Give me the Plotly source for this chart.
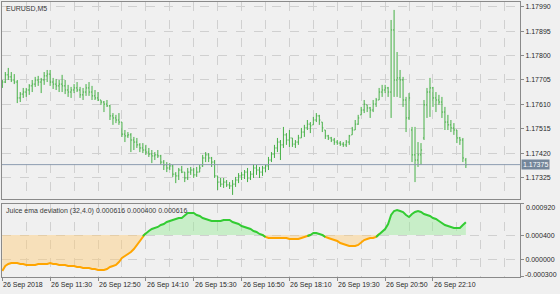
import plotly.graph_objects as go
import pandas as pd

symbol_title = "EURUSD,M5"
indicator_title = "Juice ema deviation (32,4.0) 0.000616 0.000400 0.000616"
bar_start = "2018-09-26 10:10"

open_ = [1.17682, 1.17697, 1.17725, 1.17717, 1.17705, 1.17697, 1.17635, 1.17650, 1.17658, 1.17666,
         1.17682, 1.17689, 1.17705, 1.17697, 1.17705, 1.17721, 1.17728, 1.17697, 1.17689, 1.17682,
         1.17689, 1.17682, 1.17666, 1.17658, 1.17666, 1.17674, 1.17666, 1.17647, 1.17658, 1.17674,
         1.17658, 1.17643, 1.17635, 1.17627, 1.17619, 1.17611, 1.17604, 1.17565, 1.17557, 1.17549,
         1.17541, 1.17494, 1.17487, 1.17491, 1.17471, 1.17463, 1.17452, 1.17440, 1.17432, 1.17424,
         1.17416, 1.17409, 1.17413, 1.17409, 1.17385, 1.17374, 1.17362, 1.17370, 1.17338, 1.17331,
         1.17354, 1.17346, 1.17323, 1.17346, 1.17354, 1.17335, 1.17346, 1.17370, 1.17401, 1.17413,
         1.17401, 1.17385, 1.17331, 1.17307, 1.17299, 1.17307, 1.17296, 1.17292, 1.17299, 1.17315,
         1.17331, 1.17335, 1.17346, 1.17323, 1.17338, 1.17362, 1.17354, 1.17346, 1.17362, 1.17370,
         1.17393, 1.17416, 1.17440, 1.17463, 1.17452, 1.17491, 1.17471, 1.17479, 1.17455, 1.17463,
         1.17479, 1.17502, 1.17518, 1.17533, 1.17530, 1.17549, 1.17565, 1.17541, 1.17510, 1.17487,
         1.17479, 1.17471, 1.17463, 1.17459, 1.17455, 1.17452, 1.17463, 1.17491, 1.17510, 1.17533,
         1.17569, 1.17588, 1.17608, 1.17596, 1.17588, 1.17611, 1.17627, 1.17658, 1.17666, 1.17674,
         1.17658, 1.17900, 1.17705, 1.17713, 1.17705, 1.17627, 1.17557, 1.17510, 1.17413, 1.17393,
         1.17413, 1.17479, 1.17608, 1.17658, 1.17674, 1.17635, 1.17627, 1.17619, 1.17580, 1.17541,
         1.17530, 1.17518, 1.17510, 1.17479, 1.17471, 1.17393]

high = [1.17705, 1.17736, 1.17752, 1.17736, 1.17728, 1.17705, 1.17658, 1.17674, 1.17674, 1.17689,
        1.17705, 1.17717, 1.17721, 1.17713, 1.17736, 1.17744, 1.17744, 1.17713, 1.17709, 1.17705,
        1.17725, 1.17705, 1.17686, 1.17678, 1.17689, 1.17697, 1.17678, 1.17674, 1.17689, 1.17697,
        1.17682, 1.17666, 1.17658, 1.17627, 1.17623, 1.17627, 1.17608, 1.17576, 1.17569, 1.17576,
        1.17541, 1.17510, 1.17502, 1.17498, 1.17483, 1.17479, 1.17459, 1.17459, 1.17452, 1.17440,
        1.17432, 1.17424, 1.17432, 1.17413, 1.17393, 1.17385, 1.17381, 1.17374, 1.17346, 1.17362,
        1.17370, 1.17346, 1.17362, 1.17366, 1.17362, 1.17366, 1.17374, 1.17413, 1.17424, 1.17420,
        1.17405, 1.17393, 1.17331, 1.17323, 1.17323, 1.17315, 1.17307, 1.17315, 1.17327, 1.17342,
        1.17346, 1.17354, 1.17362, 1.17350, 1.17377, 1.17374, 1.17366, 1.17370, 1.17374, 1.17405,
        1.17424, 1.17452, 1.17479, 1.17471, 1.17522, 1.17498, 1.17510, 1.17479, 1.17471, 1.17491,
        1.17518, 1.17530, 1.17549, 1.17541, 1.17561, 1.17576, 1.17569, 1.17541, 1.17510, 1.17491,
        1.17483, 1.17479, 1.17471, 1.17467, 1.17463, 1.17471, 1.17491, 1.17522, 1.17549, 1.17569,
        1.17600, 1.17627, 1.17608, 1.17600, 1.17627, 1.17635, 1.17674, 1.17686, 1.17686, 1.17678,
        1.17939, 1.17978, 1.17814, 1.17744, 1.17717, 1.17639, 1.17654, 1.17522, 1.17522, 1.17463,
        1.17459, 1.17627, 1.17674, 1.17713, 1.17678, 1.17658, 1.17647, 1.17639, 1.17600, 1.17569,
        1.17549, 1.17537, 1.17510, 1.17483, 1.17479, 1.17401]

low = [1.17674, 1.17693, 1.17705, 1.17697, 1.17689, 1.17615, 1.17619, 1.17635, 1.17639, 1.17647,
       1.17658, 1.17678, 1.17682, 1.17654, 1.17686, 1.17697, 1.17682, 1.17670, 1.17666, 1.17658,
       1.17658, 1.17650, 1.17639, 1.17635, 1.17654, 1.17658, 1.17635, 1.17627, 1.17643, 1.17643,
       1.17627, 1.17627, 1.17623, 1.17608, 1.17580, 1.17600, 1.17549, 1.17530, 1.17537, 1.17530,
       1.17483, 1.17463, 1.17479, 1.17424, 1.17432, 1.17440, 1.17424, 1.17420, 1.17413, 1.17405,
       1.17381, 1.17393, 1.17401, 1.17374, 1.17354, 1.17346, 1.17354, 1.17327, 1.17303, 1.17315,
       1.17342, 1.17307, 1.17315, 1.17335, 1.17323, 1.17327, 1.17346, 1.17366, 1.17385, 1.17385,
       1.17366, 1.17323, 1.17276, 1.17288, 1.17284, 1.17288, 1.17280, 1.17257, 1.17288, 1.17303,
       1.17315, 1.17319, 1.17307, 1.17315, 1.17323, 1.17335, 1.17323, 1.17331, 1.17346, 1.17354,
       1.17385, 1.17401, 1.17424, 1.17393, 1.17440, 1.17452, 1.17444, 1.17444, 1.17440, 1.17452,
       1.17479, 1.17483, 1.17510, 1.17498, 1.17530, 1.17541, 1.17530, 1.17502, 1.17475, 1.17471,
       1.17463, 1.17452, 1.17452, 1.17448, 1.17444, 1.17444, 1.17452, 1.17491, 1.17510, 1.17530,
       1.17569, 1.17576, 1.17580, 1.17557, 1.17580, 1.17600, 1.17627, 1.17639, 1.17654, 1.17639,
       1.17557, 1.17639, 1.17639, 1.17635, 1.17600, 1.17502, 1.17549, 1.17385, 1.17307, 1.17366,
       1.17374, 1.17471, 1.17557, 1.17561, 1.17600, 1.17580, 1.17608, 1.17557, 1.17510, 1.17510,
       1.17502, 1.17491, 1.17459, 1.17452, 1.17385, 1.17362]

close = [1.17697, 1.17725, 1.17717, 1.17705, 1.17697, 1.17635, 1.17650, 1.17658, 1.17666, 1.17682,
         1.17689, 1.17705, 1.17697, 1.17705, 1.17721, 1.17728, 1.17697, 1.17689, 1.17682, 1.17689,
         1.17682, 1.17666, 1.17658, 1.17666, 1.17674, 1.17666, 1.17647, 1.17658, 1.17674, 1.17658,
         1.17643, 1.17635, 1.17627, 1.17619, 1.17611, 1.17604, 1.17565, 1.17557, 1.17549, 1.17541,
         1.17494, 1.17487, 1.17491, 1.17471, 1.17463, 1.17452, 1.17440, 1.17432, 1.17424, 1.17416,
         1.17409, 1.17413, 1.17409, 1.17385, 1.17374, 1.17362, 1.17370, 1.17338, 1.17331, 1.17354,
         1.17346, 1.17323, 1.17346, 1.17354, 1.17335, 1.17346, 1.17362, 1.17401, 1.17413, 1.17401,
         1.17385, 1.17331, 1.17307, 1.17299, 1.17307, 1.17296, 1.17292, 1.17299, 1.17315, 1.17331,
         1.17335, 1.17346, 1.17323, 1.17338, 1.17362, 1.17354, 1.17346, 1.17362, 1.17370, 1.17393,
         1.17416, 1.17440, 1.17463, 1.17452, 1.17491, 1.17471, 1.17479, 1.17455, 1.17463, 1.17479,
         1.17502, 1.17518, 1.17533, 1.17526, 1.17549, 1.17565, 1.17549, 1.17518, 1.17487, 1.17479,
         1.17471, 1.17463, 1.17459, 1.17455, 1.17452, 1.17463, 1.17487, 1.17510, 1.17533, 1.17557,
         1.17588, 1.17611, 1.17596, 1.17588, 1.17611, 1.17627, 1.17658, 1.17666, 1.17674, 1.17658,
         1.17900, 1.17705, 1.17713, 1.17705, 1.17627, 1.17557, 1.17635, 1.17413, 1.17393, 1.17413,
         1.17432, 1.17608, 1.17658, 1.17674, 1.17635, 1.17627, 1.17619, 1.17580, 1.17541, 1.17530,
         1.17518, 1.17510, 1.17479, 1.17471, 1.17401, 1.17375]

deviation = [-0.000200, -0.000116, -0.000083, -0.000066, -0.000066, -0.000066, -0.000083, -0.000083, -0.000099, -0.000099,
             -0.000099, -0.000099, -0.000083, -0.000083, -0.000083, -0.000083, -0.000066, -0.000083, -0.000083, -0.000099,
             -0.000099, -0.000099, -0.000116, -0.000116, -0.000116, -0.000133, -0.000133, -0.000149, -0.000149, -0.000149,
             -0.000166, -0.000166, -0.000183, -0.000183, -0.000183, -0.000166, -0.000133, -0.000116, -0.000099, -0.000049,
             0.000018, 0.000051, 0.000084, 0.000118, 0.000168, 0.000235, 0.000302, 0.000385, 0.000435, 0.000469,
             0.000502, 0.000519, 0.000536, 0.000569, 0.000586, 0.000619, 0.000636, 0.000653, 0.000669, 0.000686,
             0.000686, 0.000736, 0.000770, 0.000770, 0.000770, 0.000736, 0.000719, 0.000686, 0.000669, 0.000653,
             0.000636, 0.000636, 0.000636, 0.000636, 0.000653, 0.000653, 0.000653, 0.000619, 0.000603, 0.000586,
             0.000552, 0.000536, 0.000519, 0.000502, 0.000469, 0.000452, 0.000419, 0.000402, 0.000369, 0.000352,
             0.000352, 0.000352, 0.000352, 0.000352, 0.000352, 0.000352, 0.000335, 0.000335, 0.000335, 0.000335,
             0.000352, 0.000369, 0.000385, 0.000402, 0.000435, 0.000435, 0.000419, 0.000402, 0.000369, 0.000352,
             0.000335, 0.000318, 0.000302, 0.000268, 0.000252, 0.000235, 0.000218, 0.000218, 0.000218, 0.000235,
             0.000285, 0.000318, 0.000335, 0.000352, 0.000352, 0.000369, 0.000419, 0.000469, 0.000502, 0.000586,
             0.000736, 0.000803, 0.000820, 0.000803, 0.000786, 0.000736, 0.000703, 0.000753, 0.000786, 0.000803,
             0.000786, 0.000753, 0.000736, 0.000719, 0.000686, 0.000669, 0.000636, 0.000603, 0.000569, 0.000552,
             0.000536, 0.000519, 0.000519, 0.000519, 0.000569, 0.000616]

level = 0.000400
last_price = 1.17375

price_ticks = [1.17325, 1.17420, 1.17515, 1.17610, 1.17705, 1.17800, 1.17895, 1.17990]
price_tick_text = ["1.17325", "1.17420", "1.17515", "1.17610", "1.17705", "1.17800", "1.17895", "1.17990"]
ind_ticks = [0.000920, 0.000400, 0.000000, -0.000300]
ind_tick_text = ["0.000920", "0.000400", "0.000000", "-0.000300"]
time_tick_times = ["2018-09-26 10:10", "2018-09-26 11:30", "2018-09-26 12:50", "2018-09-26 14:10",
                   "2018-09-26 15:30", "2018-09-26 16:50", "2018-09-26 18:10", "2018-09-26 19:30",
                   "2018-09-26 20:50", "2018-09-26 22:10"]
time_tick_text = ["26 Sep 2018", "26 Sep 11:30", "26 Sep 12:50", "26 Sep 14:10", "26 Sep 15:30",
                  "26 Sep 16:50", "26 Sep 18:10", "26 Sep 19:30", "26 Sep 20:50", "26 Sep 22:10"]

# ---- styling ----
BG = "#F0F0F0"
GRID = "#d0d0d0"
BORDER = "#8a8a8a"
TXT = "#2a2a2a"
BAR = "#46b046"
UP_LINE = "#33cc33"
DN_LINE = "#ffa500"
UP_FILL = "rgba(150,235,150,0.45)"
DN_FILL = "rgba(255,205,120,0.45)"
FONT = "Liberation Sans, Arial, sans-serif"
FS = 7

times = pd.date_range(bar_start, periods=len(close), freq="5min")
step = pd.Timedelta(minutes=5)
t0 = pd.Timestamp(bar_start)
x_range = [str(t0 - 0.1 * step), str(t0 + 173.1 * step)]

n = len(deviation)
above = [max(v, level) for v in deviation]
below = [min(v, level) for v in deviation]
base = [level] * n
up_line = [v if (v >= level or (i > 0 and deviation[i - 1] >= level) or (i < n - 1 and deviation[i + 1] >= level)) else None
           for i, v in enumerate(deviation)]
dn_line = [v if (v < level or (i > 0 and deviation[i - 1] < level) or (i < n - 1 and deviation[i + 1] < level)) else None
           for i, v in enumerate(deviation)]

fig = go.Figure()
fig.add_trace(go.Ohlc(x=times, open=open_, high=high, low=low, close=close,
                      increasing=dict(line=dict(color=BAR, width=1)),
                      decreasing=dict(line=dict(color=BAR, width=1)),
                      tickwidth=0.35, xaxis="x", yaxis="y", hoverinfo="skip"))

fig.add_trace(go.Scatter(x=times, y=base, mode="lines", line=dict(width=0), xaxis="x2", yaxis="y2", hoverinfo="skip"))
fig.add_trace(go.Scatter(x=times, y=above, mode="lines", line=dict(width=0), fill="tonexty", fillcolor=UP_FILL,
                         xaxis="x2", yaxis="y2", hoverinfo="skip"))
fig.add_trace(go.Scatter(x=times, y=base, mode="lines", line=dict(width=0), xaxis="x2", yaxis="y2", hoverinfo="skip"))
fig.add_trace(go.Scatter(x=times, y=below, mode="lines", line=dict(width=0), fill="tonexty", fillcolor=DN_FILL,
                         xaxis="x2", yaxis="y2", hoverinfo="skip"))
fig.add_trace(go.Scatter(x=times, y=dn_line, mode="lines", line=dict(color=DN_LINE, width=2),
                         connectgaps=False, xaxis="x2", yaxis="y2", hoverinfo="skip"))
fig.add_trace(go.Scatter(x=times, y=up_line, mode="lines", line=dict(color=UP_LINE, width=2),
                         connectgaps=False, xaxis="x2", yaxis="y2", hoverinfo="skip"))

xcommon = dict(type="date", range=x_range, tickmode="array", tickvals=time_tick_times,
               showticklabels=False, showgrid=True, gridcolor=GRID, griddash="dash", gridwidth=1,
               minor=dict(tickmode="linear", tick0=bar_start, dtick=40 * 60 * 1000, showgrid=True,
                          gridcolor=GRID, griddash="dash", gridwidth=1, ticks=""),
               showline=True, mirror=True, linecolor=BORDER, linewidth=1, zeroline=False, fixedrange=True)

ycommon = dict(side="right", tickmode="array", ticks="outside", ticklen=3, tickcolor=BORDER,
               showgrid=True, gridcolor=GRID, griddash="dash", gridwidth=1,
               showline=True, mirror=True, linecolor=BORDER, linewidth=1, zeroline=False,
               tickfont=dict(family=FONT, size=FS, color=TXT), fixedrange=True)

fig.update_layout(
    width=560, height=294,
    margin=dict(l=2, r=40, t=2, b=17),
    paper_bgcolor=BG, plot_bgcolor=BG,
    showlegend=False,
    font=dict(family=FONT, size=FS, color=TXT),
    xaxis=dict(domain=[0, 1], anchor="y", ticks="", rangeslider=dict(visible=False), **xcommon),
    xaxis2=dict(domain=[0, 1], anchor="y2", matches="x", ticks="outside", ticklen=3, tickcolor=BORDER,
                rangeslider=dict(visible=False), **xcommon),
    yaxis=dict(domain=[0.2836, 1], anchor="x", range=[1.17241, 1.18009],
               tickvals=price_ticks, ticktext=price_tick_text, **ycommon),
    yaxis2=dict(domain=[0, 0.2655], anchor="x2", range=[-0.000300, 0.000920],
                tickvals=ind_ticks, ticktext=["", ind_tick_text[1], ind_tick_text[2], ""], **ycommon),
)

fig.add_shape(type="line", xref="x domain", yref="y", x0=0, x1=1, y0=last_price, y1=last_price,
              line=dict(color="#8c9cb0", width=1))

annotations = []
annotations.append(dict(text=symbol_title, xref="paper", yref="paper", x=0, y=1, xanchor="left", yanchor="top",
                        xshift=2, yshift=-1, showarrow=False, font=dict(family=FONT, size=FS, color="#3a3a3a")))
annotations.append(dict(text=indicator_title, xref="paper", yref="paper", x=0, y=0.2655, xanchor="left",
                        yanchor="top", xshift=2, yshift=-1, showarrow=False,
                        font=dict(family=FONT, size=FS, color="#3a3a3a")))
for tv, tt in zip(time_tick_times, time_tick_text):
    annotations.append(dict(text=tt, xref="x2", yref="paper", x=tv, y=0, xanchor="left", yanchor="top",
                            xshift=-1, yshift=-2, showarrow=False, font=dict(family=FONT, size=FS, color=TXT)))
annotations.append(dict(text=ind_tick_text[0], xref="paper", yref="y2", x=1, y=ind_ticks[0], xanchor="left",
                        yanchor="middle", xshift=4, yshift=-4, showarrow=False,
                        font=dict(family=FONT, size=FS, color=TXT)))
annotations.append(dict(text=ind_tick_text[3], xref="paper", yref="y2", x=1, y=ind_ticks[3], xanchor="left",
                        yanchor="middle", xshift=3, yshift=2, showarrow=False,
                        font=dict(family=FONT, size=FS, color=TXT)))
annotations.append(dict(text=f"{last_price:.5f}", xref="paper", yref="y", x=1, y=last_price, xanchor="left",
                        yanchor="middle", xshift=1, showarrow=False, bgcolor="#74869a", borderpad=1,
                        font=dict(family=FONT, size=FS, color="#ffffff")))
fig.update_layout(annotations=annotations)

fig.write_html("out.html")
